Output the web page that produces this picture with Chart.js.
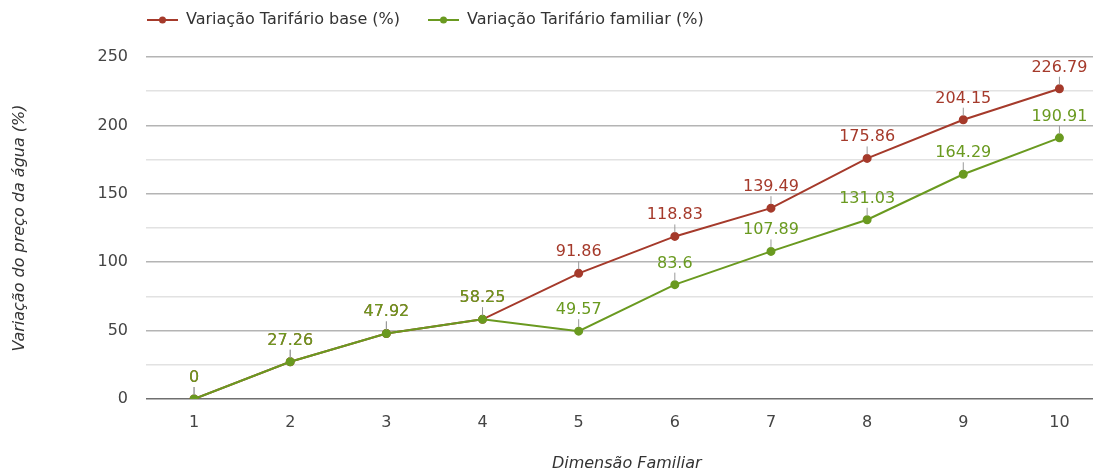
<!DOCTYPE html>
<html>
<head>
<meta charset="utf-8">
<script src="https://cdn.jsdelivr.net/npm/chart.js@4/dist/chart.umd.min.js"></script>
<style>
  html, body { margin: 0; padding: 0; background: #fff; overflow: hidden; }
  #wrap { width: 1113px; height: 473px; position: relative; }
</style>
</head>
<body>
<div id="wrap"><canvas id="meinChart"></canvas></div>
<script>
// ---------------- data
const categories = ['1', '2', '3', '4', '5', '6', '7', '8', '9', '10'];
const tarifBase = [0, 27.26, 47.92, 58.25, 91.86, 118.83, 139.49, 175.86, 204.15, 226.79];
const tarifFamiliar = [0, 27.26, 47.92, 58.25, 49.57, 83.6, 107.89, 131.03, 164.29, 190.91];
const yTickLabels = [0, 50, 100, 150, 200, 250];

const red = '#a53a2b';
const green = '#6a9a20';
const font = "'DejaVu Sans', sans-serif";

// legend on top, line + dot like the original
const legendPlugin = {
  id: 'topLegend',
  afterDraw(chart) {
    const ctx = chart.ctx;
    let x = chart.chartArea.left + 1;
    const y = 20;
    ctx.save();
    ctx.font = '16px ' + font;
    ctx.textBaseline = 'middle';
    chart.data.datasets.forEach(function (ds) {
      ctx.strokeStyle = ds.borderColor;
      ctx.lineWidth = 2;
      ctx.beginPath();
      ctx.moveTo(x, y);
      ctx.lineTo(x + 31, y);
      ctx.stroke();
      ctx.fillStyle = ds.borderColor;
      ctx.beginPath();
      ctx.arc(x + 15.5, y, 3.5, 0, Math.PI * 2);
      ctx.fill();
      ctx.fillStyle = '#333';
      ctx.fillText(ds.label, x + 39, y);
      x += 39 + ctx.measureText(ds.label).width + 28;
    });
    ctx.restore();
  }
};

// value labels with small leader lines
const valueLabels = {
  id: 'valueLabels',
  afterDatasetsDraw(chart) {
    const ctx = chart.ctx;
    ctx.save();
    ctx.font = '16px ' + font;
    ctx.textAlign = 'center';
    ctx.textBaseline = 'alphabetic';
    chart.data.datasets.forEach(function (ds, i) {
      const meta = chart.getDatasetMeta(i);
      meta.data.forEach(function (pt, j) {
        ctx.strokeStyle = '#9a9a9a';
        ctx.lineWidth = 1;
        ctx.beginPath();
        ctx.moveTo(pt.x, pt.y - 4);
        ctx.lineTo(pt.x, pt.y - 12);
        ctx.stroke();
        ctx.fillStyle = ds.borderColor;
        ctx.fillText(String(ds.data[j]), pt.x, pt.y - 17);
      });
    });
    ctx.restore();
  }
};

const data = {
  labels: categories,
  datasets: [{
    label: 'Variação Tarifário base (%)',
    data: tarifBase,
    borderColor: red,
    backgroundColor: red,
    borderWidth: 2,
    pointRadius: 3.5,
    pointHoverRadius: 3.5,
    order: 1
  }, {
    label: 'Variação Tarifário familiar (%)',
    data: tarifFamiliar,
    borderColor: green,
    backgroundColor: green,
    borderWidth: 2,
    pointRadius: 3.5,
    pointHoverRadius: 3.5,
    order: 0
  }]
};

const config = {
  type: 'line',
  data: data,
  options: {
    responsive: true,
    maintainAspectRatio: false,
    animation: false,
    layout: { padding: { top: 57, left: 0, right: 0, bottom: 0 } },
    plugins: {
      legend: { display: false },
      tooltip: { enabled: false }
    },
    scales: {
      x: {
        offset: true,
        grid: { display: false },
        border: { display: false },
        ticks: { color: '#444', font: { family: font, size: 16 }, padding: 6 },
        title: {
          display: true,
          text: 'Dimensão Familiar',
          color: '#333',
          font: { family: font, size: 16, style: 'italic' },
          padding: { top: 0, bottom: 0 }
        },
        afterFit(scale) { scale.height = 74; }
      },
      y: {
        min: 0,
        max: 250,
        border: { display: false },
        grid: {
          drawTicks: false,
          lineWidth: 1.5,
          color(c) {
            const v = c.tick.value;
            if (v === 0) return '#6f6f6f';
            return yTickLabels.includes(v) ? '#b4b4b4' : '#e2e2e2';
          }
        },
        ticks: {
          stepSize: 25,
          color: '#444',
          padding: 18,
          font: { family: font, size: 16 },
          callback(v) { return yTickLabels.includes(v) ? String(v) : ''; }
        },
        title: {
          display: true,
          text: 'Variação do preço da água (%)',
          color: '#333',
          font: { family: font, size: 16, style: 'italic' },
          padding: { top: 10, bottom: 0 }
        },
        afterFit(scale) { scale.width = 146; }
      }
    }
  },
  plugins: [legendPlugin, valueLabels]
};

const myChart = new Chart(document.getElementById('meinChart'), config);
</script>
</body>
</html>
